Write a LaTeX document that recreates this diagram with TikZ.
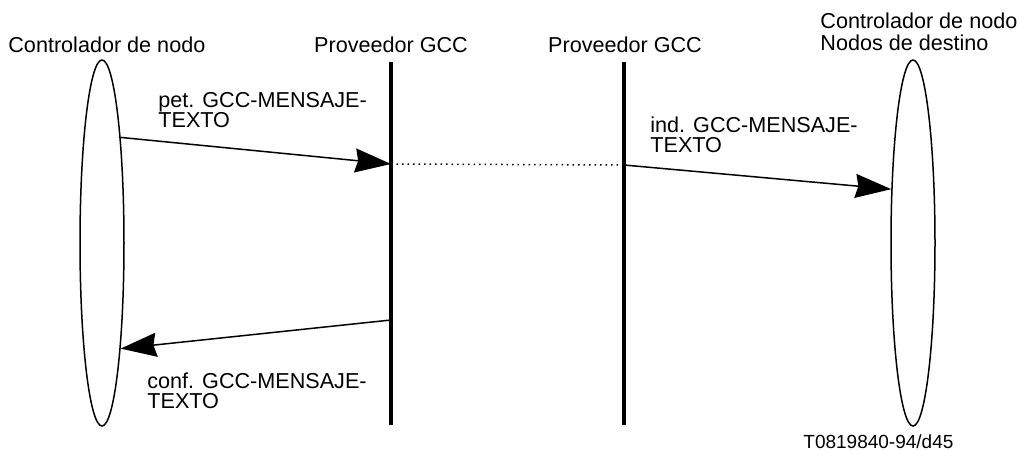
\documentclass[tikz,border=0pt]{standalone}
\usepackage{fontspec}
\setmainfont{Liberation Sans}
\usetikzlibrary{shapes.geometric, arrows.meta, positioning}

\tikzset{
  lbl/.style={inner sep=0pt, anchor=base west, align=left, font=\fontsize{10.8}{10}\selectfont},
  ctrl/.style={draw, ellipse, line width=0.75pt, minimum width=22pt, minimum height=183pt, inner sep=0pt},
  gccline/.style={line width=2pt},
  msg/.style={line width=0.75pt, -{Stealth[length=18pt, width=12pt, inset=1.5pt]}}
}

\begin{document}
\begin{tikzpicture}[x=0.5pt, y=-0.5pt]
  \useasboundingbox (0,0) rectangle (1019,450);

  % nodo de origen y nodos de destino
  \node[ctrl] (ctrlA) at (102,243) {};
  \node[ctrl] (ctrlB) at (913,243) {};

  % proveedores GCC
  \coordinate (gccAtop) at (391,62);
  \coordinate (gccAbot) at (391,425);
  \coordinate (gccBtop) at (624,62);
  \coordinate (gccBbot) at (624,425);
  \draw[gccline] (gccAtop) -- (gccAbot);
  \draw[gccline] (gccBtop) -- (gccBbot);

  \coordinate (petEnd) at (391,164);
  \coordinate (indStart) at (624,165);
  \coordinate (confStart) at (391,320);

  % titulos (base = ultima linea)
  \node[lbl] (tCtrlA) at (8,52) {Controlador de nodo};
  \node[lbl, anchor=base] (tGccA) at (391,52) {Proveedor GCC};
  \node[lbl, anchor=base] (tGccB) at (625,52) {Proveedor GCC};
  \node[lbl] (tCtrlB) at (820,50) {Controlador de nodo\\[1pt]Nodos de destino};

  % primitivas
  \draw[msg] (ctrlA.80) -- (petEnd);
  \draw[line width=0.75pt, dotted] (petEnd) -- (indStart);
  \draw[msg] (indStart) -- (ctrlB.112);
  \draw[msg] (confStart) -- (ctrlA.-80);

  \node[lbl] (pet) at (158,127) {pet. GCC-MENSAJE-\\TEXTO};
  \node[lbl] (ind) at (650,152) {ind. GCC-MENSAJE-\\TEXTO};
  \node[lbl] (conf) at (147,408) {conf. GCC-MENSAJE-\\TEXTO};

  \node[lbl] (ref) at (803,448) {\fontsize{9.5}{10}\selectfont T0819840-94/d45};
\end{tikzpicture}
\end{document}
